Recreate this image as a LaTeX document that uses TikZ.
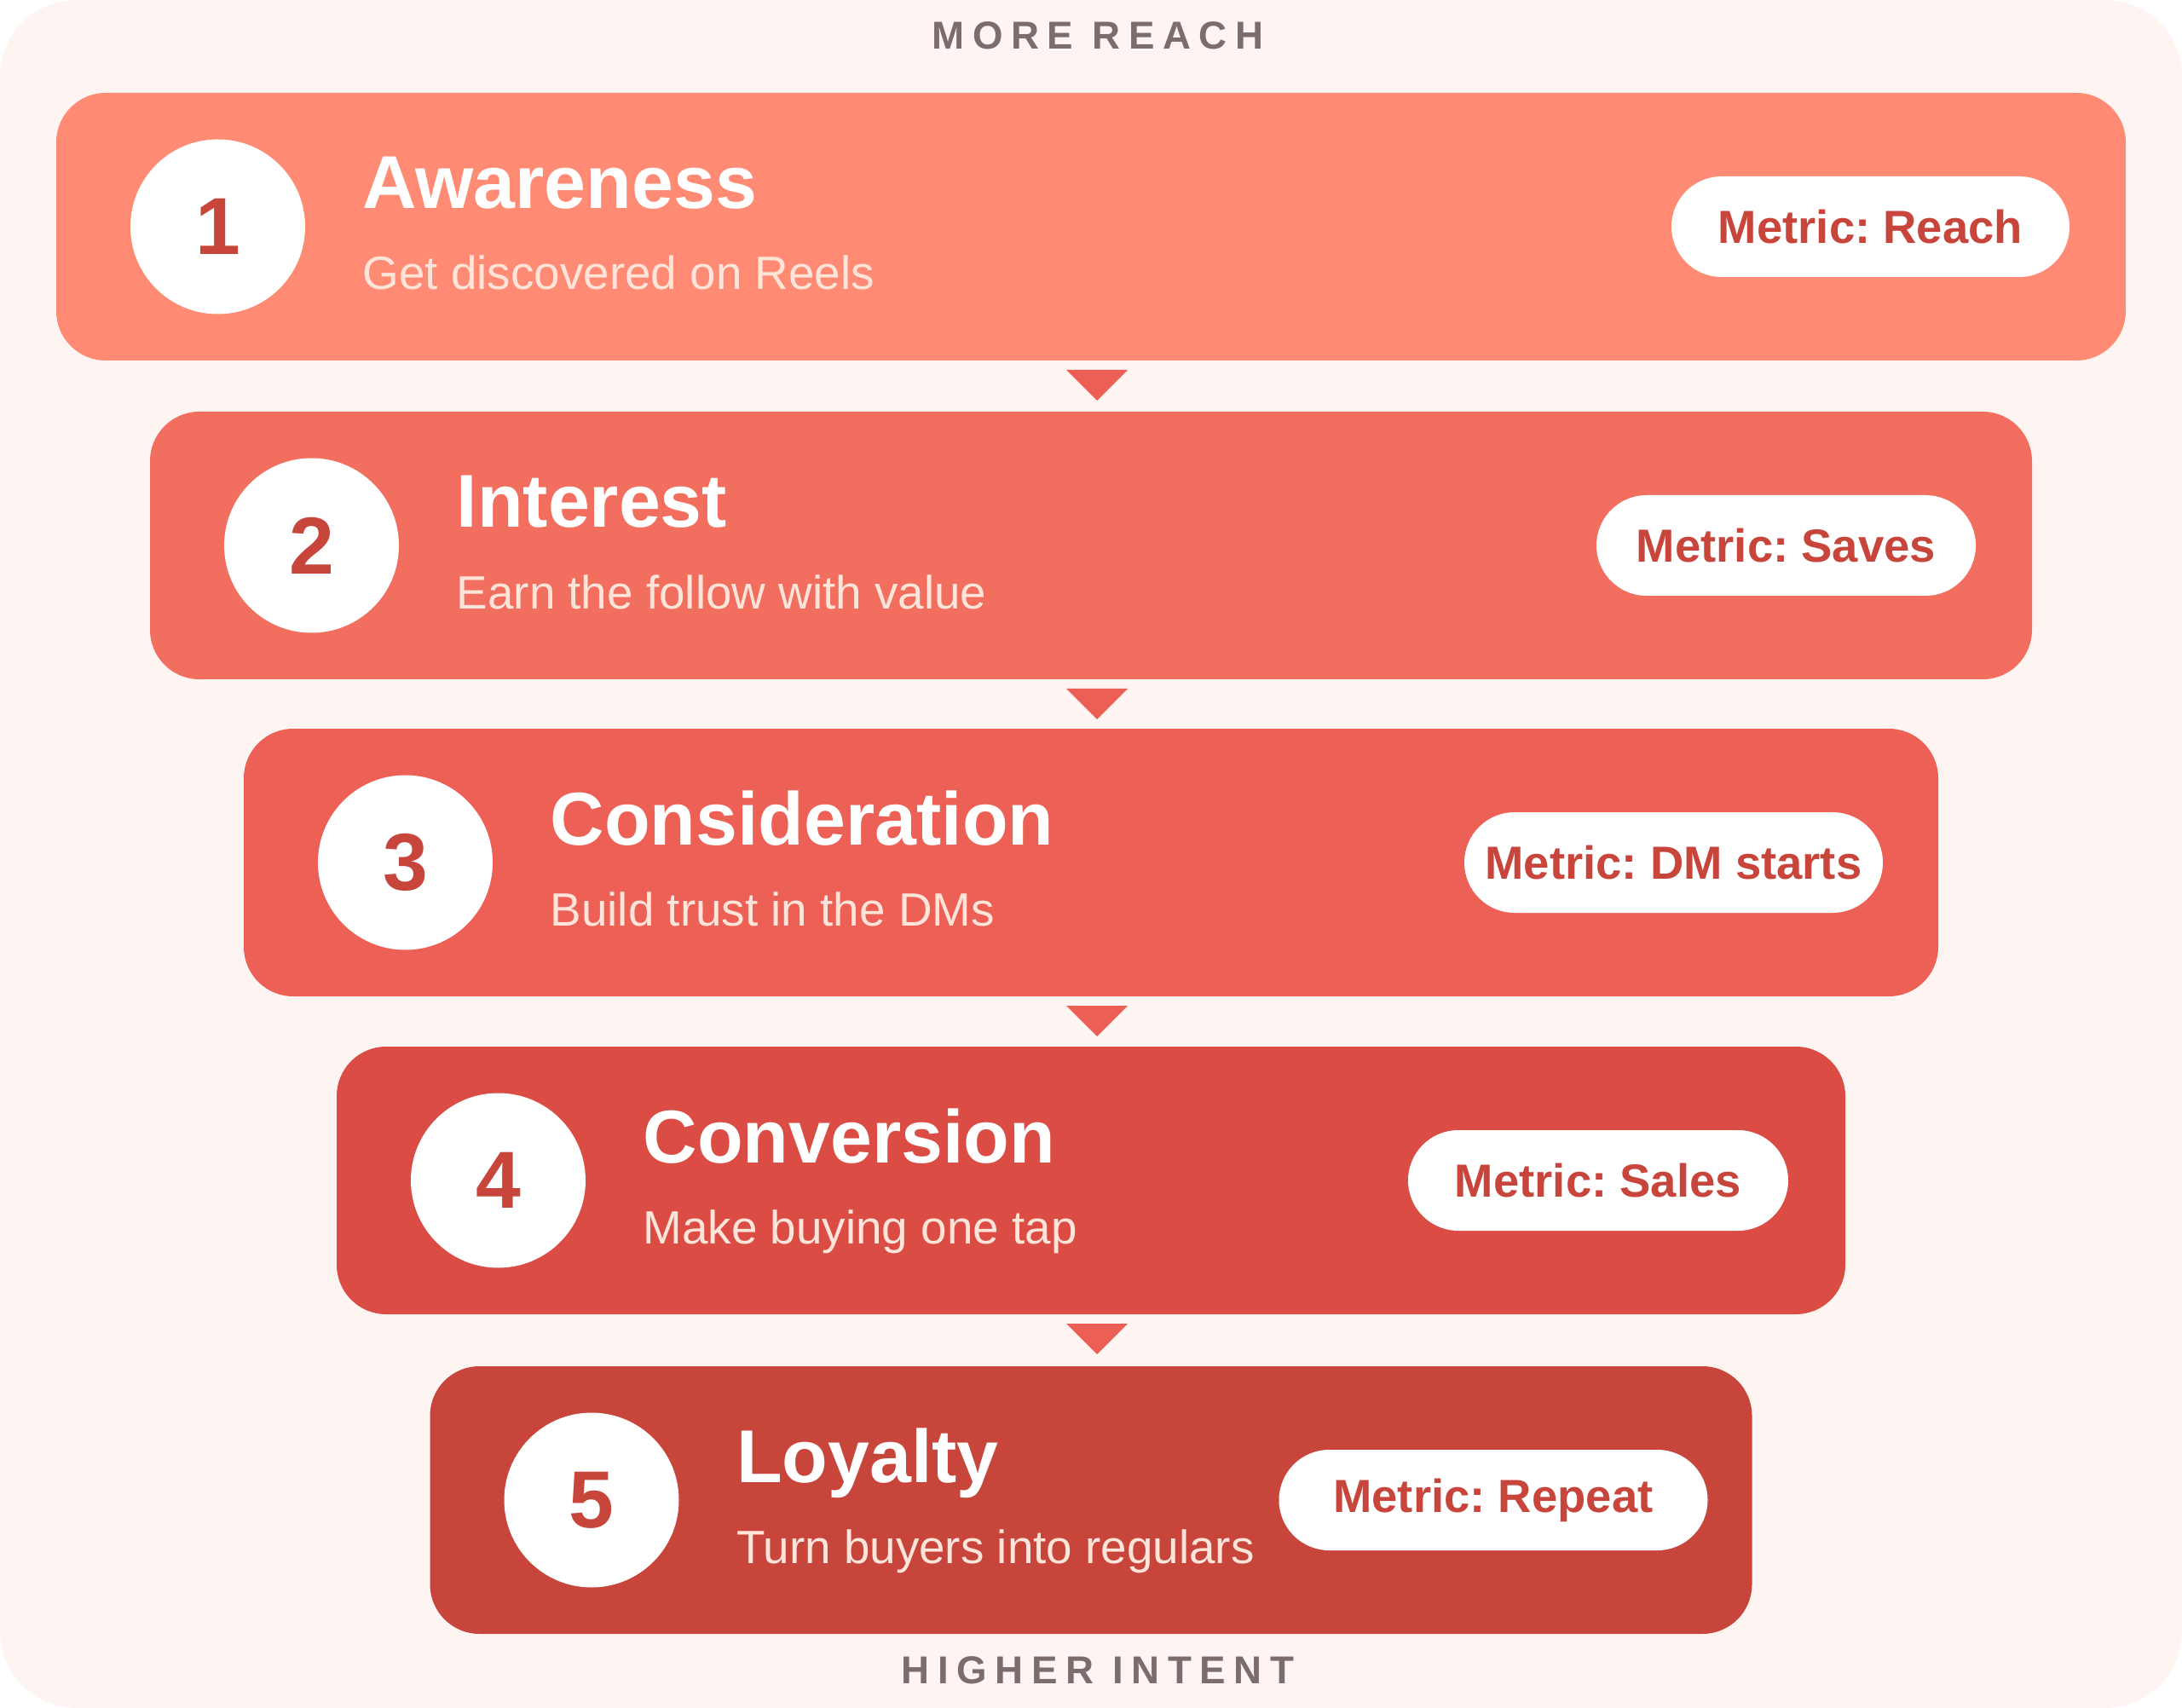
\documentclass[tikz,border=0pt]{standalone}
\usepackage{fontspec}
\setmainfont{Liberation Sans}
\usepackage{tikz}
\usetikzlibrary{positioning, calc}
\definecolor{bgpink}{HTML}{FEF5F3}
\definecolor{stageA}{HTML}{FF8B74}
\definecolor{stageB}{HTML}{F26E5E}
\definecolor{stageC}{HTML}{EC6055}
\definecolor{stageD}{HTML}{DB4D44}
\definecolor{stageE}{HTML}{C8453C}
\definecolor{chevronRed}{HTML}{EC5F54}
\definecolor{numRed}{HTML}{C8453C}
\definecolor{subPeach}{HTML}{FFE4DA}
\definecolor{labelGray}{HTML}{7B6D6B}
\tikzset{
    stage/.style={rectangle, rounded corners=0.58cm, minimum height=3.14cm, inner sep=0pt, outer sep=0pt},
    numdisc/.style={circle, fill=white, minimum size=2.05cm, inner sep=0pt, outer sep=0pt, text=numRed, font=\fontsize{27}{27}\selectfont\bfseries},
    stagetitle/.style={anchor=base west, inner sep=0pt, text=white, font=\fontsize{25}{25}\selectfont\bfseries},
    stagesub/.style={anchor=base west, inner sep=0pt, text=subPeach, font=\fontsize{15.6}{15.6}\selectfont},
    pill/.style={rectangle, rounded corners=0.59cm, fill=white, minimum height=1.18cm, inner sep=0pt, outer sep=0pt, text=numRed, font=\fontsize{15.5}{15.5}\selectfont\bfseries\frenchspacing},
    sidelabel/.style={anchor=base, inner sep=0pt, text=labelGray, font=\fontsize{13}{13}\selectfont\bfseries\addfontfeature{LetterSpace=21}},
    chevron/.style={fill=chevronRed}
}

\begin{document}
\begin{tikzpicture}
    \useasboundingbox (0,0) rectangle (25.6,-20.04);
    \fill [white] (0,0) rectangle (25.6,-20.04);
    \fill [bgpink, rounded corners=0.9cm] (0,0) rectangle (25.6,-20.04);

    % Stages
    \node [stage, fill=stageA, minimum width=24.28cm] (aware) at (12.80,-2.66) {};
    \node [stage, fill=stageB, minimum width=22.08cm, below=0.60cm of aware] (interest) {};
    \node [stage, fill=stageC, minimum width=19.88cm, below=0.58cm of interest] (consider) {};
    \node [stage, fill=stageD, minimum width=17.70cm, below=0.59cm of consider] (convert) {};
    \node [stage, fill=stageE, minimum width=15.51cm, below=0.61cm of convert] (loyal) {};

    % Numbers
    \node [numdisc, right=0.87cm of aware.west] (n1) {1};
    \node [numdisc, right=0.87cm of interest.west] (n2) {2};
    \node [numdisc, right=0.87cm of consider.west] (n3) {3};
    \node [numdisc, right=0.87cm of convert.west] (n4) {4};
    \node [numdisc, right=0.87cm of loyal.west] (n5) {5};

    % Titles and subtitles
    \node [stagetitle] (t1) at ([shift={(3.59,0.21)}]aware.west) {Awareness};
    \node [stagesub] (s1) at ([shift={(3.59,-0.74)}]aware.west) {Get discovered on Reels};
    \node [stagetitle] (t2) at ([shift={(3.59,0.21)}]interest.west) {Interest};
    \node [stagesub] (s2) at ([shift={(3.59,-0.74)}]interest.west) {Earn the follow with value};
    \node [stagetitle] (t3) at ([shift={(3.59,0.21)}]consider.west) {Consideration};
    \node [stagesub] (s3) at ([shift={(3.59,-0.74)}]consider.west) {Build trust in the DMs};
    \node [stagetitle] (t4) at ([shift={(3.59,0.21)}]convert.west) {Conversion};
    \node [stagesub] (s4) at ([shift={(3.59,-0.74)}]convert.west) {Make buying one tap};
    \node [stagetitle] (t5) at ([shift={(3.59,0.21)}]loyal.west) {Loyalty};
    \node [stagesub] (s5) at ([shift={(3.59,-0.74)}]loyal.west) {Turn buyers into regulars};

    % Metrics
    \node [pill, minimum width=4.67cm, left=0.66cm of aware.east] (m1) {Metric: Reach};
    \node [pill, minimum width=4.45cm, left=0.66cm of interest.east] (m2) {Metric: Saves};
    \node [pill, minimum width=4.91cm, left=0.65cm of consider.east] (m3) {Metric: DM starts};
    \node [pill, minimum width=4.46cm, left=0.67cm of convert.east] (m4) {Metric: Sales};
    \node [pill, minimum width=5.03cm, left=0.52cm of loyal.east] (m5) {Metric: Repeat};

    % Chevrons between stages
    \fill [chevron] ([shift={(-0.29,-0.11)}]aware.south) -- ([shift={(0.43,-0.11)}]aware.south) -- ([shift={(0.07,-0.47)}]aware.south) -- cycle;
    \fill [chevron] ([shift={(-0.29,-0.11)}]interest.south) -- ([shift={(0.43,-0.11)}]interest.south) -- ([shift={(0.07,-0.47)}]interest.south) -- cycle;
    \fill [chevron] ([shift={(-0.29,-0.11)}]consider.south) -- ([shift={(0.43,-0.11)}]consider.south) -- ([shift={(0.07,-0.47)}]consider.south) -- cycle;
    \fill [chevron] ([shift={(-0.29,-0.11)}]convert.south) -- ([shift={(0.43,-0.11)}]convert.south) -- ([shift={(0.07,-0.47)}]convert.south) -- cycle;

    % Axis labels
    \node [sidelabel] (reach) at ([shift={(0.08,0.51)}]aware.north) {MORE REACH};
    \node [sidelabel] (intent) at ([shift={(0.08,-0.58)}]loyal.south) {HIGHER INTENT};
\end{tikzpicture}
\end{document}
